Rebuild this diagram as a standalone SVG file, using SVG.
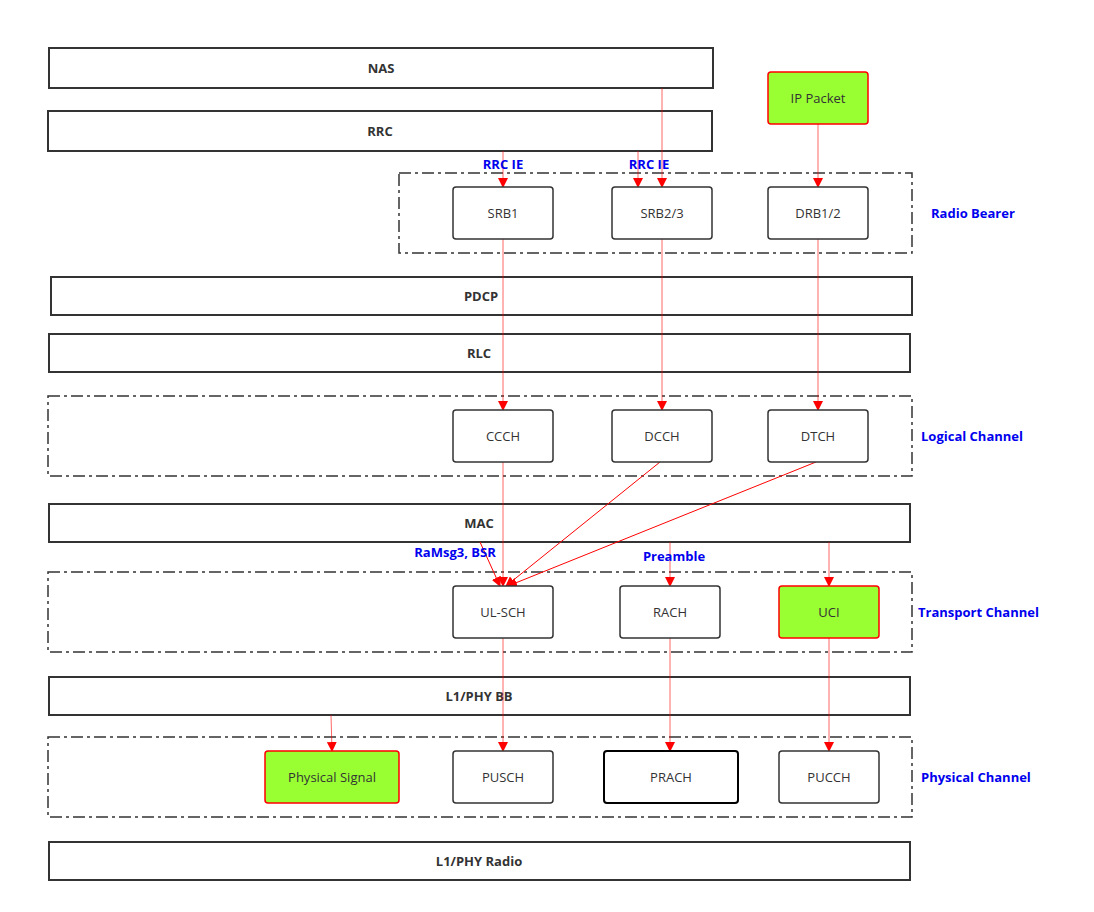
<svg xmlns="http://www.w3.org/2000/svg" width="1094" height="912" viewBox="0 0 1094 912">
<style>
.layer{fill:#fff;stroke:#333;stroke-width:2}
.grp{fill:none;stroke:#333;stroke-width:1.5;stroke-dasharray:12 4 3 4}
.node{fill:#fff;stroke:#333;stroke-width:1.5}
.g{fill:#99ff33;stroke:#ff0000;stroke-width:1.5}
.lt{font-family:"Open Sans","DejaVu Sans",sans-serif;font-size:13px;font-weight:bold;fill:#333;text-anchor:middle}
.nt{font-family:"Open Sans","DejaVu Sans",sans-serif;font-size:13px;fill:#333;text-anchor:middle}
.bl{font-family:"Open Sans","DejaVu Sans",sans-serif;font-size:13px;font-weight:bold;fill:#0000ee}
.c{stroke:#ff0000;stroke-width:1;fill:none;marker-end:url(#a)}
.v{stroke-opacity:0.6}
</style>
<defs><marker id="a" markerWidth="10" markerHeight="10" refX="9" refY="5" orient="auto" markerUnits="userSpaceOnUse"><path d="M0,0 L10,5 L0,10 Z" fill="#ff0000"/></marker></defs>
<g id="layers">
<g id="nas"><rect class="layer" x="49" y="48" width="664" height="40"/><text class="lt" x="381" y="73">NAS</text></g>
<g id="rrc"><rect class="layer" x="48" y="111" width="664" height="40"/><text class="lt" x="380" y="136">RRC</text></g>
<g id="pdcp"><rect class="layer" x="51" y="277" width="861" height="38"/><text class="lt" x="481" y="301">PDCP</text></g>
<g id="rlc"><rect class="layer" x="49" y="334" width="861" height="38"/><text class="lt" x="479" y="358">RLC</text></g>
<g id="mac"><rect class="layer" x="49" y="504" width="861" height="38"/><text class="lt" x="479" y="528">MAC</text></g>
<g id="l1bb"><rect class="layer" x="49" y="677" width="861" height="38"/><text class="lt" x="479" y="701">L1/PHY BB</text></g>
<g id="l1radio"><rect class="layer" x="49" y="842" width="861" height="38"/><text class="lt" x="479" y="866">L1/PHY Radio</text></g>
</g>
<g id="groups">
<g id="rb"><rect class="grp" x="399" y="173" width="513" height="80"/><text class="bl" x="931" y="218">Radio Bearer</text></g>
<g id="lc"><rect class="grp" x="48" y="396" width="864" height="80"/><text class="bl" x="921" y="441">Logical Channel</text></g>
<g id="tc"><rect class="grp" x="48" y="572" width="864" height="80"/><text class="bl" x="918" y="617">Transport Channel</text></g>
<g id="pc"><rect class="grp" x="48" y="737" width="864" height="80"/><text class="bl" x="921" y="782">Physical Channel</text></g>
</g>
<g id="connectors">
<line class="c v" x1="818" y1="124" x2="818" y2="187"/>
<line class="c v" x1="503" y1="151" x2="503" y2="187"/>
<line class="c v" x1="638" y1="151" x2="638" y2="187"/>
<line class="c v" x1="662" y1="88" x2="662" y2="187"/>
<line class="c v" x1="503" y1="239" x2="503" y2="410"/>
<line class="c v" x1="662" y1="239" x2="662" y2="410"/>
<line class="c v" x1="818" y1="239" x2="818" y2="410"/>
<line class="c v" x1="503" y1="462" x2="503" y2="586"/>
<line class="c" x1="660" y1="462" x2="506" y2="586"/>
<line class="c" x1="816" y1="462" x2="508" y2="586"/>
<line class="c" x1="480" y1="542" x2="500" y2="586"/>
<line class="c v" x1="670" y1="542" x2="670" y2="586"/>
<line class="c v" x1="829" y1="542" x2="829" y2="586"/>
<line class="c v" x1="503" y1="638" x2="503" y2="751"/>
<line class="c v" x1="670" y1="638" x2="670" y2="751"/>
<line class="c v" x1="829" y1="638" x2="829" y2="751"/>
<line class="c v" x1="331" y1="715" x2="332" y2="751"/>
<text class="bl" x="503" y="169" text-anchor="middle">RRC IE</text>
<text class="bl" x="649" y="169" text-anchor="middle">RRC IE</text>
<text class="bl" x="455" y="557" text-anchor="middle">RaMsg3, BSR</text>
<text class="bl" x="674" y="561" text-anchor="middle">Preamble</text>
</g>
<g id="ip"><rect class="g" x="768" y="72" width="100" height="52" rx="3"/><text class="nt" x="818" y="103">IP Packet</text></g>
<g id="srb1"><rect class="node" x="453" y="187" width="100" height="52" rx="3"/><text class="nt" x="503" y="218">SRB1</text></g>
<g id="srb23"><rect class="node" x="612" y="187" width="100" height="52" rx="3"/><text class="nt" x="662" y="218">SRB2/3</text></g>
<g id="drb"><rect class="node" x="768" y="187" width="100" height="52" rx="3"/><text class="nt" x="818" y="218">DRB1/2</text></g>
<g id="ccch"><rect class="node" x="453" y="410" width="100" height="52" rx="3"/><text class="nt" x="503" y="441">CCCH</text></g>
<g id="dcch"><rect class="node" x="612" y="410" width="100" height="52" rx="3"/><text class="nt" x="662" y="441">DCCH</text></g>
<g id="dtch"><rect class="node" x="768" y="410" width="100" height="52" rx="3"/><text class="nt" x="818" y="441">DTCH</text></g>
<g id="ulsch"><rect class="node" x="453" y="586" width="100" height="52" rx="3"/><text class="nt" x="503" y="617">UL-SCH</text></g>
<g id="rach"><rect class="node" x="620" y="586" width="100" height="52" rx="3"/><text class="nt" x="670" y="617">RACH</text></g>
<g id="uci"><rect class="g" x="779" y="586" width="100" height="52" rx="3"/><text class="nt" x="829" y="617">UCI</text></g>
<g id="physig"><rect class="g" x="265" y="751" width="134" height="52" rx="3"/><text class="nt" x="332" y="782">Physical Signal</text></g>
<g id="pusch"><rect class="node" x="453" y="751" width="100" height="52" rx="3"/><text class="nt" x="503" y="782">PUSCH</text></g>
<g id="prach"><rect class="node" x="604" y="751" width="134" height="52" rx="3" style="stroke:#000;stroke-width:2"/><text class="nt" x="671" y="782">PRACH</text></g>
<g id="pucch"><rect class="node" x="779" y="751" width="100" height="52" rx="3"/><text class="nt" x="829" y="782">PUCCH</text></g>
</svg>
